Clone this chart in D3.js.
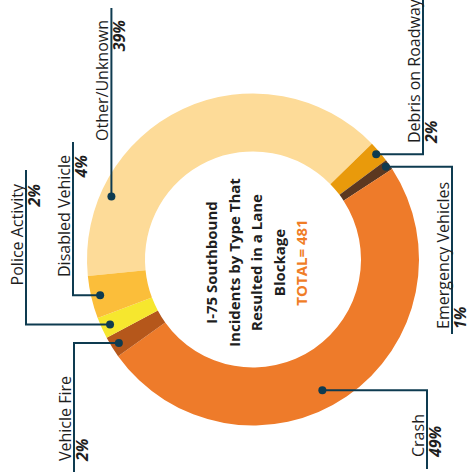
<!DOCTYPE html>
<html>
<head>
<meta charset="utf-8">
<script src="https://cdn.jsdelivr.net/npm/d3@7"></script>
<style>
    body { margin: 0; background: #fff; }
    svg { display: block; font-family: "Open Sans", sans-serif; }
</style>
</head>
<body>
<div id="root"></div>
<script>
// Donut chart of I-75 southbound lane blockages, drawn rotated a quarter turn
"use strict";

/* ************************************* Data ******************************** */

const categories = ["Other/Unknown", "Debris on Roadway", "Emergency Vehicles", "Crash",
    "Vehicle Fire", "Police Activity", "Disabled Vehicle"];
const counts = [189, 10, 5, 237, 10, 10, 20];
const percentLabels = ["39%", "2%", "1%", "49%", "2%", "2%", "4%"];
const titleLines = ["I-75 Southbound", "Incidents by Type That", "Resulted in a Lane", "Blockage"];
const totalLabel = "TOTAL= 481";

/* ************************************* Set up ******************************** */

const width = 469;
const height = 472;
const cx = 253;
const cy = 259.5;
const outerR = 166;
const innerR = 108;

const colors = ["#fddb98", "#e99a0b", "#5c3820", "#ee7b2a", "#b5571b", "#f6e72e", "#fbbe3a"];
const lineColor = "#0e3b50";

// Label layout in screen space: where the leader turns (elbowX), where it stops (endY),
// where the rotated text sits (textY) and how it is anchored
const labelLayout = [
    { t: 0.21, r: 155, elbowX: null, endY: 8, textY: 20, anchor: "end" },
    { t: 0.5, r: 162, elbowX: 423, endY: 0, textY: 143, anchor: "start" },
    { t: 0.5, r: 162, elbowX: 452, endY: 334, textY: 329, anchor: "start" },
    { t: 0.536, r: 148, elbowX: 427, endY: 469, textY: 457, anchor: "start" },
    { t: 0.5, r: 158, elbowX: 74, endY: 472, textY: 461, anchor: "start" },
    { t: 0.5, r: 157, elbowX: 26, endY: 170, textY: 184, anchor: "end" },
    { t: 0.5, r: 157, elbowX: 73, endY: 142, textY: 155, anchor: "end" }
];

let svg = d3.select('#root')
    .append('svg')
    .attr('width', width)
    .attr('height', height);

/* ************************************* Donut ******************************** */

let data = categories.map((c, i) => ({ name: c, value: counts[i], pct: percentLabels[i], color: colors[i] }));

let pie = d3.pie()
    .value((d) => d.value)
    .sort(null)
    .startAngle(-5.7 * Math.PI / 180)
    .endAngle((360 - 5.7) * Math.PI / 180);

let arcs = pie(data);

let arc = d3.arc()
    .innerRadius(innerR)
    .outerRadius(outerR);

// whole ring turned a quarter turn counter-clockwise
let ringG = svg.append('g')
    .attr('transform', `translate(${cx},${cy}) rotate(-90)`);

ringG.selectAll('path')
    .data(arcs)
    .enter().append('path')
    .attr('d', arc)
    .attr('fill', (d) => d.data.color);

/* ************************************* Leaders + labels ******************************** */

// angle inside the ring group -> screen point
function screenPoint(angle, r) {
    // d3 angle 0 points to local up; local rotated -90 points to screen left
    let a = angle + Math.PI; // screen angle from +x, clockwise
    return [cx + r * Math.cos(a), cy + r * Math.sin(a)];
}

arcs.forEach((d, i) => {
    let L = labelLayout[i];
    let ang = d.startAngle + (d.endAngle - d.startAngle) * L.t;
    let p = screenPoint(ang, L.r);
    let lineX = L.elbowX === null ? p[0] : L.elbowX;

    let pts = [p, [lineX, p[1]], [lineX, L.endY]];
    svg.append('path')
        .attr('d', d3.line()(pts))
        .attr('fill', 'none')
        .attr('stroke', lineColor)
        .attr('stroke-width', 2);

    svg.append('circle')
        .attr('cx', p[0])
        .attr('cy', p[1])
        .attr('r', 4)
        .attr('fill', lineColor);

    let tg = svg.append('g')
        .attr('transform', `translate(${lineX},${L.textY}) rotate(-90)`);

    // name sits just above the leader, percentage just below it
    tg.append('text')
        .attr('y', -3.5)
        .attr('text-anchor', L.anchor)
        .style('font-size', '16px')
        .attr('fill', '#1e1e1e')
        .text(d.data.name);

    tg.append('text')
        .attr('y', 14)
        .attr('text-anchor', L.anchor)
        .style('font-size', '16px')
        .style('font-weight', 'bold')
        .style('font-style', 'italic')
        .attr('fill', '#1e1e1e')
        .text(d.data.pct);
});

/* ************************************* Center title ******************************** */

let titleG = svg.append('g')
    .attr('transform', `translate(${cx + 3},${cy + 3}) rotate(-90)`);

let lines = titleLines.concat([totalLabel]);
titleG.selectAll('text')
    .data(lines)
    .enter().append('text')
    .attr('x', 0)
    .attr('y', (d, i) => (i - 2) * 22.5)
    .attr('dominant-baseline', 'central')
    .attr('text-anchor', 'middle')
    .style('font-size', '15px')
    .style('font-weight', 'bold')
    .attr('fill', (d, i) => i === lines.length - 1 ? '#f07d26' : '#1e1e1e')
    .text((d) => d);
</script>
</body>
</html>
